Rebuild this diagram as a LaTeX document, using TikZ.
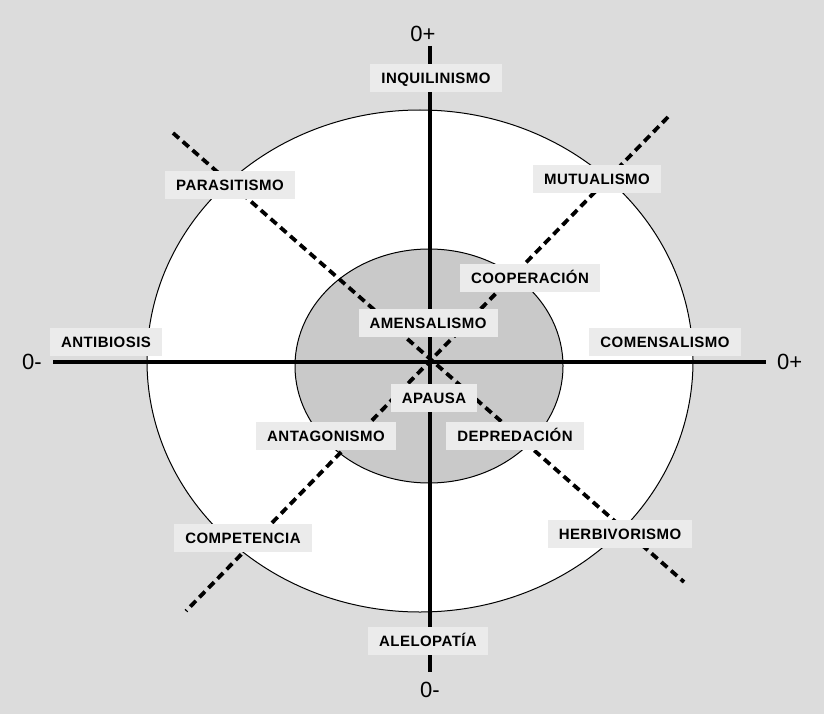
\documentclass[tikz,border=0pt]{standalone}
\usepackage{fontspec}
\setmainfont{Liberation Sans}
\newfontfamily\tagfont[LetterSpace=3]{Liberation Sans}
\usetikzlibrary{positioning}
\definecolor{rback}{HTML}{DCDCDC}
\definecolor{rtag}{HTML}{EBEBEB}
\definecolor{rcore}{HTML}{C9C9C9}
\tikzset{
  tag/.style={rectangle, fill=rtag, text=black, inner xsep=11pt, inner ysep=8.5pt,
              text height=11pt, text depth=0pt,
              font=\tagfont\bfseries\fontsize{15}{17}\selectfont},
  pole/.style={inner sep=0pt, font=\fontsize{22}{25}\selectfont},
  axis/.style={draw=black, line width=4pt},
  diag/.style={draw=black, line width=3.8pt, dash pattern=on 8pt off 5pt},
  ring/.style={draw=black, line width=1pt}
}

\begin{document}
\begin{tikzpicture}[x=1pt, y=-1pt]
  \fill[rback] (0,0) rectangle (824,714);
  \useasboundingbox (0,0) rectangle (824,714);

  % rings
  \draw[ring, fill=white] (420,361) ellipse [x radius=273pt, y radius=251pt];
  \draw[ring, fill=rcore] (429,366) ellipse [x radius=134pt, y radius=117pt];

  % axes
  \coordinate (lft) at (53,362);
  \coordinate (rgt) at (766,362);
  \coordinate (top) at (430,46);
  \coordinate (bot) at (430,672);
  \draw[axis] (lft) -- (rgt);
  \draw[axis] (top) -- (bot);
  \node[pole, above=4pt of top, xshift=-7pt] (ptop) {0+};
  \node[pole, below=10pt of bot] (pbot) {0-};
  \node[pole, left=11pt of lft] (plft) {0-};
  \node[pole, right=11pt of rgt] (prgt) {0+};

  % diagonals
  \coordinate (nw) at (173,133);
  \coordinate (se) at (684,582);
  \coordinate (ne) at (668,117);
  \coordinate (sw) at (186,611);
  \draw[diag] (nw) -- (se);
  \draw[diag] (ne) -- (sw);

  % outer labels
  \node[tag] (inq) at (436,78) {INQUILINISMO};
  \node[tag] (ale) at (428,641) {ALELOPATÍA};
  \node[tag] (ant) at (106,342) {ANTIBIOSIS};
  \node[tag] (com) at (665,342) {COMENSALISMO};
  \node[tag] (par) at (230,185) {PARASITISMO};
  \node[tag] (mut) at (597,179) {MUTUALISMO};
  \node[tag] (cpt) at (243,538) {COMPETENCIA};
  \node[tag] (her) at (620,534) {HERBIVORISMO};

  % inner labels
  \node[tag] (coo) at (530,278) {COOPERACIÓN};
  \node[tag] (ame) at (428,323) {AMENSALISMO};
  \node[tag] (apa) at (434,398) {APAUSA};
  \node[tag] (agn) at (326,436) {ANTAGONISMO};
  \node[tag] (dep) at (515,436) {DEPREDACIÓN};
\end{tikzpicture}
\end{document}
